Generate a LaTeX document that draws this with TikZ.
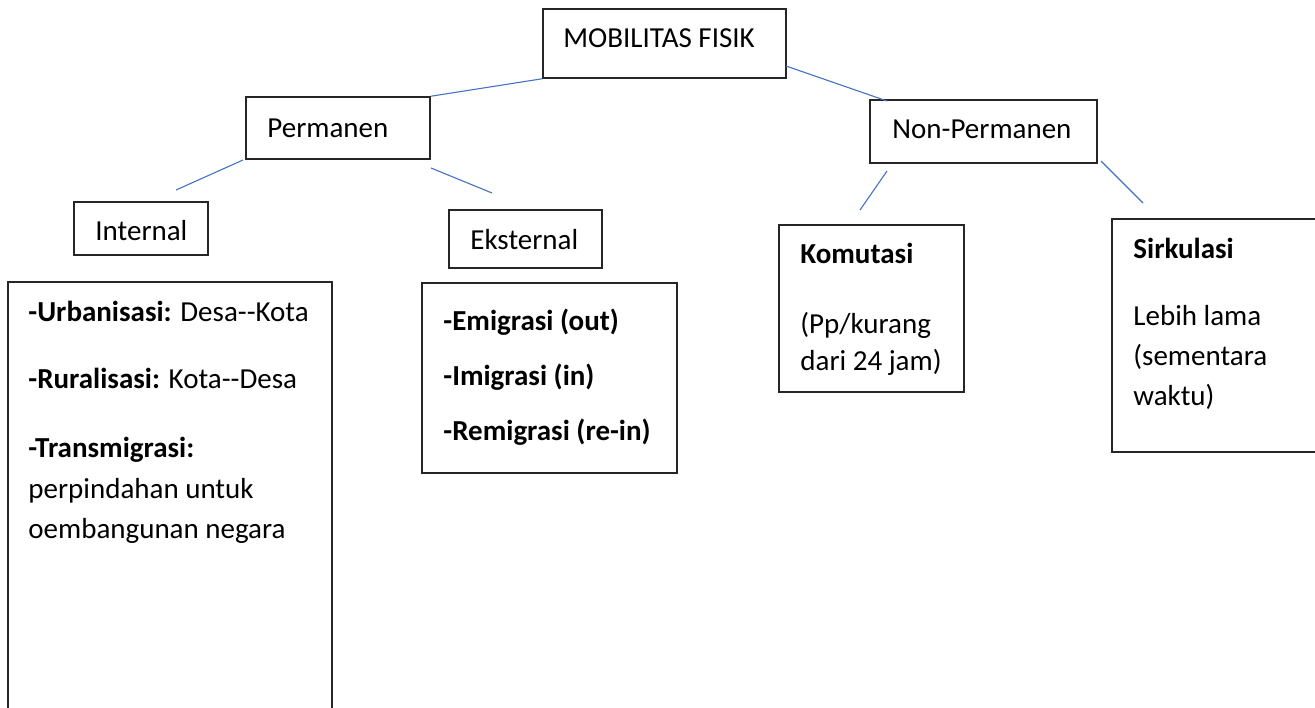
\documentclass[tikz,border=0pt]{standalone}
\usepackage{fontspec}
\setmainfont{Carlito}
\usepackage{tikz}
\definecolor{garisbiru}{RGB}{68,114,196}
\tikzset{
  kotak/.style 2 args={draw=black!85, line width=0.75pt, inner sep=0pt,
    minimum width=#1*0.5pt, minimum height=#2*0.5pt},
  teks/.style={anchor=base west, inner sep=0pt, font=\fontsize{14.5}{17}\selectfont},
  hubung/.style={draw=garisbiru, line width=0.55pt}
}

\begin{document}
\begin{tikzpicture}[x=0.5pt,y=-0.5pt]
\useasboundingbox (0,0) rectangle (1315,707);
\clip (0,0) rectangle (1315,707);
% kotak-kotak
\node[kotak={243}{69}] (mob) at (664.5,43.5) {};
\node[kotak={184}{62}] (perm) at (338,128) {};
\node[kotak={227}{63}] (nonp) at (983.5,131.5) {};
\node[kotak={134}{53}] (intl) at (141,228.5) {};
\node[kotak={153}{58}] (ekst) at (525.5,239) {};
\node[kotak={324}{440}] (urb) at (170,502) {};
\node[kotak={255}{190}] (emi) at (549.5,378) {};
\node[kotak={185}{167}] (komu) at (871.5,308.5) {};
\node[kotak={230}{233}] (sirk) at (1227,335.5) {};
% judul
\node[teks] (tmob) at (563,47) {MOBILITAS FISIK};
\node[teks] (tperm) at (267,137) {Permanen};
\node[teks] (tnonp) at (892,138) {Non-Permanen};
\node[teks] (tintl) at (95,240) {Internal};
\node[teks] (tekst) at (470,249) {Eksternal};
% isi internal
\node[teks] (u1) at (28,321) {\textbf{-Urbanisasi:} Desa-{}-Kota};
\node[teks] (u2) at (28,388) {\textbf{-Ruralisasi:} Kota-{}-Desa};
\node[teks] (u3) at (28,457) {\textbf{-Transmigrasi:}};
\node[teks] (u4) at (28,498) {perpindahan untuk};
\node[teks] (u5) at (28,538) {oembangunan negara};
% isi eksternal
\node[teks] (e1) at (443,330) {\textbf{-Emigrasi (out)}};
\node[teks] (e2) at (443,385) {\textbf{-Imigrasi (in)}};
\node[teks] (e3) at (443,440) {\textbf{-Remigrasi (re-in)}};
% non permanen
\node[teks] (k1) at (800,263) {\textbf{Komutasi}};
\node[teks] (k2) at (800,333) {(Pp/kurang};
\node[teks] (k3) at (800,370) {dari 24 jam)};
\node[teks] (s1) at (1133,258) {\textbf{Sirkulasi}};
\node[teks] (s2) at (1133,325) {Lebih lama};
\node[teks] (s3) at (1133,365) {(sementara};
\node[teks] (s4) at (1133,405) {waktu)};
% garis penghubung
\coordinate (a1) at (786,66);
\coordinate (a2) at (887,101);
\coordinate (b1) at (243,160);
\coordinate (b2) at (176,190);
\coordinate (c1) at (431,168);
\coordinate (c2) at (492,193);
\coordinate (d1) at (887,171);
\coordinate (d2) at (860,210);
\coordinate (f1) at (1101,161);
\coordinate (f2) at (1143,203);
\draw[hubung] (mob.south west) -- (perm.north east);
\draw[hubung] (a1) -- (a2);
\draw[hubung] (b1) -- (b2);
\draw[hubung] (c1) -- (c2);
\draw[hubung] (d1) -- (d2);
\draw[hubung] (f1) -- (f2);
\end{tikzpicture}
\end{document}
